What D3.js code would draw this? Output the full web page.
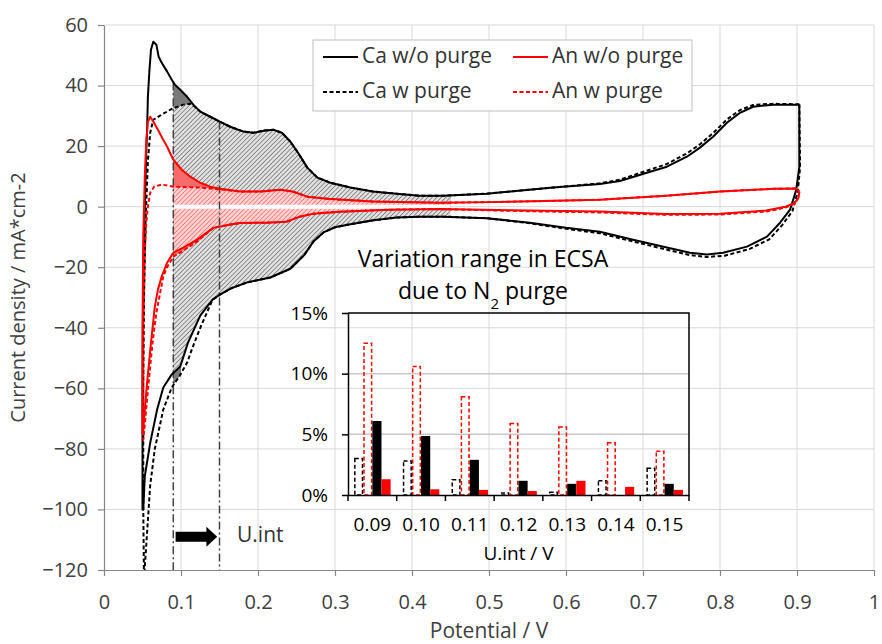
<!DOCTYPE html>
<html><head><meta charset="utf-8">
<script src="https://cdn.jsdelivr.net/npm/d3@7"></script>
<style>
html,body{margin:0;padding:0;background:#fff;}
svg{display:block;font-family:"Open Sans",sans-serif;}
</style></head>
<body>
<svg id="chart" width="882" height="644"></svg>
<script>
// ---------- DATA ----------
const xTicks = [0,0.1,0.2,0.3,0.4,0.5,0.6,0.7,0.8,0.9,1];
const xTickLabels = ["0","0.1","0.2","0.3","0.4","0.5","0.6","0.7","0.8","0.9","1"];
const yTicks = [-120,-100,-80,-60,-40,-20,0,20,40,60];

// Ca w/o purge (black solid): anodic (upper) and cathodic (lower) branches [V, mA/cm2]
const caWoAnodic = [[0.050,-100],[0.050,-60],[0.051,-20],[0.053,0],[0.055,18.8],[0.056,25.4],[0.057,36.3],[0.059,45],[0.061,51.8],[0.064,54.5],[0.068,53.5],[0.071,49.5],[0.075,47.5],[0.082,44.6],[0.088,41.9],[0.092,40.3],[0.099,38.6],[0.108,36.3],[0.116,33.7],[0.125,31.4],[0.138,29.7],[0.151,28],[0.164,26.4],[0.181,24.8],[0.194,24.4],[0.207,25.1],[0.22,25.4],[0.231,24.4],[0.242,21.5],[0.252,17.8],[0.264,12.9],[0.277,9.6],[0.294,7.9],[0.32,6.3],[0.349,5],[0.38,4.3],[0.41,3.6],[0.44,3.6],[0.497,4.3],[0.583,6.3],[0.644,7.5],[0.67,8.5],[0.705,11.2],[0.731,13.2],[0.757,16.5],[0.774,19.5],[0.791,23.1],[0.809,27.7],[0.826,31],[0.843,33],[0.869,33.7],[0.903,33.7]];
const caWoCathodic = [[0.903,33.7],[0.903,13],[0.899,5.6],[0.891,-1],[0.878,-5.3],[0.861,-9.9],[0.835,-13.2],[0.804,-15.2],[0.783,-15.8],[0.761,-15.2],[0.731,-13.5],[0.687,-10.9],[0.644,-8.3],[0.6,-7],[0.553,-5.3],[0.497,-3.8],[0.44,-3.3],[0.41,-3.3],[0.38,-3.6],[0.35,-4.5],[0.32,-5.8],[0.3,-6.8],[0.285,-8.5],[0.272,-11.5],[0.26,-16],[0.242,-20.5],[0.216,-23.4],[0.186,-25],[0.165,-27],[0.151,-29],[0.141,-30.7],[0.125,-36],[0.109,-45],[0.099,-52.8],[0.088,-55.4],[0.077,-59.7],[0.069,-67],[0.060,-78],[0.053,-89],[0.051,-100]];
// Ca w purge (black dashed)
const caWAnodic = [[0.052,-125],[0.051,-100],[0.051,-60],[0.052,-30],[0.054,-5],[0.057,15],[0.060,24.4],[0.064,28.7],[0.075,30.4],[0.088,32.3],[0.103,33.7],[0.112,34],[0.118,33],[0.125,31.4],[0.138,29.7],[0.151,28],[0.164,26.4],[0.181,24.8],[0.194,24.4],[0.207,25.1],[0.22,25.4],[0.231,24.4],[0.242,21.5],[0.252,17.8],[0.264,12.9],[0.277,9.6],[0.294,7.9],[0.32,6.3],[0.349,5],[0.38,4.3],[0.41,3.6],[0.44,3.6],[0.497,4.3],[0.583,6.3],[0.644,7.7],[0.67,8.9],[0.705,11.9],[0.731,14.1],[0.757,17.6],[0.774,20.6],[0.791,24.3],[0.809,28.8],[0.826,31.9],[0.843,33.6],[0.869,34],[0.903,33.8]];
const caWCathodic = [[0.903,33.8],[0.904,13],[0.901,5],[0.894,-1.5],[0.881,-6],[0.864,-10.8],[0.838,-14],[0.806,-16.2],[0.783,-16.6],[0.761,-16],[0.731,-14.2],[0.687,-11.5],[0.644,-8.8],[0.6,-7.3],[0.553,-5.5],[0.497,-3.8],[0.44,-3.3],[0.41,-3.3],[0.38,-3.6],[0.35,-4.5],[0.32,-5.8],[0.3,-6.8],[0.285,-8.5],[0.272,-11.5],[0.26,-16],[0.242,-20.5],[0.216,-23.4],[0.186,-25],[0.165,-27],[0.151,-29],[0.141,-30.7],[0.125,-40],[0.115,-46.5],[0.108,-51.5],[0.098,-56],[0.088,-59.7],[0.077,-67],[0.066,-80],[0.060,-92],[0.053,-119],[0.052,-125]];
// An w/o purge (red solid)
const anWoAnodic = [[0.050,-75],[0.050,-40],[0.051,-10],[0.053,10],[0.055,22],[0.057,28],[0.060,29.7],[0.065,27.7],[0.070,25.4],[0.076,22.5],[0.082,19.8],[0.09,15.5],[0.101,12.2],[0.112,9.9],[0.125,7.9],[0.138,6.6],[0.151,5.9],[0.177,5],[0.203,5],[0.229,5.6],[0.245,5],[0.264,3.3],[0.29,2.6],[0.349,1.7],[0.436,1.3],[0.5,1.5],[0.6,2],[0.644,2.3],[0.73,3.6],[0.8,5],[0.87,5.9],[0.898,6],[0.903,5]];
const anWoCathodic = [[0.903,5],[0.902,3],[0.897,1.2],[0.885,0],[0.86,-1.3],[0.8,-2.3],[0.73,-2.4],[0.644,-1.6],[0.55,-1.3],[0.436,-0.8],[0.371,-1],[0.306,-1.7],[0.272,-2.3],[0.254,-3.3],[0.237,-5],[0.211,-5.3],[0.177,-5.4],[0.164,-5.9],[0.142,-7],[0.121,-10.9],[0.103,-13.5],[0.09,-15.2],[0.082,-18.5],[0.075,-23],[0.070,-27.4],[0.066,-33],[0.061,-45],[0.056,-58],[0.052,-70],[0.050,-75]];
// An w purge (red dashed)
const anWAnodic = [[0.051,-77],[0.051,-40],[0.053,-15],[0.055,-5],[0.057,0],[0.060,4.6],[0.065,6.6],[0.075,7.3],[0.09,6.6],[0.125,6.3],[0.151,5.7],[0.177,5],[0.203,5],[0.229,5.6],[0.245,5],[0.264,3.3],[0.29,2.6],[0.349,1.7],[0.436,1.3],[0.5,1.5],[0.6,2],[0.644,2.3],[0.73,3.6],[0.8,5],[0.87,5.9],[0.898,6],[0.903,5]];
const anWCathodic = [[0.903,5],[0.902,3],[0.897,1],[0.885,-0.3],[0.86,-1.6],[0.8,-2.6],[0.73,-2.7],[0.644,-1.9],[0.55,-1.5],[0.436,-0.8],[0.371,-1],[0.306,-1.7],[0.272,-2.3],[0.254,-3.3],[0.237,-5],[0.211,-5.3],[0.177,-5.4],[0.164,-5.9],[0.142,-7],[0.121,-11.5],[0.103,-14.5],[0.09,-16.5],[0.082,-20],[0.077,-23],[0.072,-29.7],[0.068,-35],[0.063,-45],[0.058,-58],[0.053,-72],[0.051,-77]];

// Integration limits (U.int lines) and region ends
const uIntLines = [0.09, 0.15];
const fillStart = 0.09, fillEnd = 0.45, lowerDarkEnd = 0.10;

// Inset bar chart
const insetCats = ["0.09","0.10","0.11","0.12","0.13","0.14","0.15"];
const insetTicks = [0,5,10,15];
const caHollow = [3.0,2.8,1.25,0.17,0.22,1.17,2.2];
const anHollow = [12.5,10.6,8.1,5.9,5.6,4.3,3.6];
const caFilled = [6.1,4.86,2.9,1.17,0.92,0,0.92];
const anFilled = [1.3,0.47,0.42,0.33,1.17,0.67,0.42];

// ---------- CHART ----------
const svg = d3.select("#chart");
const L=104,R=874,T=25,B=570;
const x = d3.scaleLinear().domain([0,1]).range([L,R]);
const y = d3.scaleLinear().domain([-120,60]).range([B,T]);

const defs = svg.append("defs");
defs.append("clipPath").attr("id","plotClip").append("rect")
  .attr("x",L).attr("y",T).attr("width",R-L).attr("height",B-T);
function hatch(id,bg,fg){
  const p = defs.append("pattern").attr("id",id).attr("width",3.2).attr("height",3.2)
    .attr("patternUnits","userSpaceOnUse").attr("patternTransform","rotate(45)");
  p.append("rect").attr("width",3.2).attr("height",3.2).attr("fill",bg);
  p.append("line").attr("x1",0).attr("y1",0).attr("x2",0).attr("y2",3.2)
    .attr("stroke",fg).attr("stroke-width",1.3);
}
hatch("hGray","#e0e0e0","#666666");
hatch("hPink","#ffd2d2","#ff5e5e");

// gridlines
const grid = svg.append("g");
grid.selectAll("line.v").data(xTicks.slice(1)).join("line")
  .attr("x1",d=>x(d)).attr("x2",d=>x(d)).attr("y1",T).attr("y2",B)
  .attr("stroke","#d9d9d9").attr("stroke-width",1);
grid.selectAll("line.h").data(yTicks.filter(d=>d!==-120)).join("line")
  .attr("x1",L).attr("x2",R).attr("y1",d=>y(d)).attr("y2",d=>y(d))
  .attr("stroke","#d9d9d9").attr("stroke-width",1);

// interpolation on a branch
function interp(branch, v){
  for(let i=0;i<branch.length-1;i++){
    const a=branch[i], b=branch[i+1];
    if(a[0]>=0.085 && b[0]>=0.085 && (a[0]-v)*(b[0]-v)<=0 && a[0]!==b[0]){
      const t=(v-a[0])/(b[0]-a[0]);
      return a[1]+t*(b[1]-a[1]);
    }
  }
  return 0;
}
const area = d3.area().x(d=>x(d[0])).y0(y(0)).y1(d=>y(d[1]));
function fillRegion(branch, fill, end){
  const samples = d3.range(fillStart, (end||fillEnd)+1e-9, 0.0025);
  svg.append("path").datum(samples.map(v=>[v,interp(branch,v)]))
    .attr("d",area).attr("fill",fill).attr("stroke","none");
}
// upper side (layered from outermost)
fillRegion(caWoAnodic,"#7a7a7a");
fillRegion(caWAnodic,"url(#hGray)");
fillRegion(anWoAnodic,"#f76b6b");
fillRegion(anWAnodic,"url(#hPink)");
// lower side
fillRegion(caWCathodic,"#7a7a7a",lowerDarkEnd);
fillRegion(caWoCathodic,"url(#hGray)");
fillRegion(anWCathodic,"#f76b6b");
fillRegion(anWoCathodic,"url(#hPink)");
// white zero band
svg.append("line").attr("x1",x(fillStart)).attr("x2",x(fillEnd))
  .attr("y1",y(0)).attr("y2",y(0)).attr("stroke","#fff").attr("stroke-width",4);

// U.int lines
svg.selectAll("line.uint").data(uIntLines).join("line")
  .attr("x1",d=>x(d)).attr("x2",d=>x(d))
  .attr("y1",d=>y(interp(caWoAnodic,d))).attr("y2",B)
  .attr("stroke","#404040").attr("stroke-width",1.5).attr("stroke-dasharray","8,3,2,3");

// curves
const line = d3.line().x(d=>x(d[0])).y(d=>y(d[1]));
const curves = [
  {pts:caWoCathodic.concat(caWoAnodic), color:"#000", dash:null},
  {pts:caWCathodic.concat(caWAnodic), color:"#000", dash:"4,2.5"},
  {pts:anWoCathodic.concat(anWoAnodic), color:"#ff0000", dash:null},
  {pts:anWCathodic.concat(anWAnodic), color:"#ff0000", dash:"4,2.5"}
];
const cg = svg.append("g").attr("clip-path","url(#plotClip)");
cg.selectAll("path").data(curves).join("path")
  .attr("d",d=>line(d.pts)).attr("fill","none")
  .attr("stroke",d=>d.color).attr("stroke-width",2)
  .attr("stroke-dasharray",d=>d.dash).attr("stroke-linejoin","round");

// axes
const axL = svg.append("g").attr("transform",`translate(${L},0)`)
  .call(d3.axisLeft(y).tickValues(yTicks).tickSize(6).tickSizeOuter(0).tickPadding(10));
const axB = svg.append("g").attr("transform",`translate(0,${B})`)
  .call(d3.axisBottom(x).tickValues(xTicks).tickFormat((d,i)=>xTickLabels[i]).tickSize(6).tickSizeOuter(0).tickPadding(19));
[axL,axB].forEach(a=>{
  a.select(".domain").attr("stroke","#868686").attr("stroke-width",1.2);
  a.selectAll(".tick line").attr("stroke","#868686").attr("stroke-width",1.2);
  a.selectAll(".tick text").attr("fill","#404040").style("font-size","20px").style("font-family","'Open Sans',sans-serif");
});

// axis titles
svg.append("text").attr("x",(L+R)/2).attr("y",632).attr("text-anchor","middle")
  .attr("dominant-baseline","middle").attr("fill","#404040").style("font-size","21px").text("Potential / V");
svg.append("text").attr("transform",`translate(20,${(T+B)/2}) rotate(-90)`).attr("text-anchor","middle")
  .attr("dominant-baseline","middle").attr("fill","#404040").style("font-size","20px").text("Current density / mA*cm-2");

// legend
const lg = svg.append("g");
lg.append("rect").attr("x",313).attr("y",40).attr("width",379).attr("height",71)
  .attr("fill","#fff").attr("stroke","#bfbfbf").attr("stroke-width",1);
const legendItems = [
  {label:"Ca w/o purge", color:"#000", dash:null, lx:323, ly:57},
  {label:"An w/o purge", color:"#ff0000", dash:null, lx:513, ly:57},
  {label:"Ca w purge", color:"#000", dash:"4,2.5", lx:323, ly:92},
  {label:"An w purge", color:"#ff0000", dash:"4,2.5", lx:513, ly:92}
];
legendItems.forEach(it=>{
  lg.append("line").attr("x1",it.lx).attr("x2",it.lx+35).attr("y1",it.ly).attr("y2",it.ly)
    .attr("stroke",it.color).attr("stroke-width",2).attr("stroke-dasharray",it.dash);
  lg.append("text").attr("x",it.lx+39).attr("y",it.ly).attr("dominant-baseline","middle")
    .attr("fill","#333").style("font-size","21px").text(it.label);
});

// arrow + U.int
const ay = y(-109);
const ax0 = x(0.093), ax1 = x(0.133), ax2 = x(0.147);
svg.append("path").attr("d",`M${ax0},${ay-5}L${ax1},${ay-5}L${ax1},${ay-10}L${ax2},${ay}L${ax1},${ay+10}L${ax1},${ay+5}L${ax0},${ay+5}Z`)
  .attr("fill","#000");
svg.append("text").attr("x",237).attr("y",ay).attr("dominant-baseline","middle")
  .attr("fill","#333").style("font-size","21px").text("U.int");

// ---------- INSET ----------
const iL=348,iR=689,iT=313,iB=495;
const xb = d3.scaleBand().domain(insetCats).range([iL,iR]);
const yb = d3.scaleLinear().domain([0,15]).range([iB,iT]);
const ig = svg.append("g");
ig.selectAll("line.g").data([5,10]).join("line")
  .attr("x1",iL).attr("x2",iR).attr("y1",d=>yb(d)).attr("y2",d=>yb(d))
  .attr("stroke","#c8c8c8").attr("stroke-width",1.5);
const groupW = xb.bandwidth()*0.75, bw = groupW/4, off=(xb.bandwidth()-groupW)/2;
const series = [
  {vals:caHollow, fill:"none", stroke:"#000", dash:"4,2.5"},
  {vals:anHollow, fill:"none", stroke:"#ff0000", dash:"4,2.5"},
  {vals:caFilled, fill:"#000", stroke:"none", dash:null},
  {vals:anFilled, fill:"#ff0000", stroke:"none", dash:null}
];
series.forEach((s,si)=>{
  ig.selectAll(null).data(s.vals).join("rect")
    .attr("x",(d,i)=>xb(insetCats[i])+off+si*bw+(s.fill==="none"?0.75:0))
    .attr("width",bw-(s.fill==="none"?1.5:0))
    .attr("y",d=>yb(d)).attr("height",d=>Math.max(0,iB-yb(d)))
    .attr("fill",s.fill).attr("stroke",s.stroke).attr("stroke-width",1.5)
    .attr("stroke-dasharray",s.dash);
});
const iaL = ig.append("g").attr("transform",`translate(${iL},0)`)
  .call(d3.axisLeft(yb).tickValues(insetTicks).tickFormat(d=>d+"%").tickSize(6).tickSizeOuter(0).tickPadding(14));
const iaB = ig.append("g").attr("transform",`translate(0,${iB})`)
  .call(d3.axisBottom(xb).tickSize(0).tickPadding(23));
iaB.selectAll(".bt").data(d3.range(insetCats.length+1)).join("line")
  .attr("x1",i=>iL+i*xb.step()).attr("x2",i=>iL+i*xb.step()).attr("y1",0).attr("y2",6)
  .attr("stroke","#000").attr("stroke-width",1.5);
[iaL,iaB].forEach(a=>{
  a.select(".domain").attr("stroke","#000").attr("stroke-width",1.5);
  a.selectAll(".tick line").attr("stroke","#000").attr("stroke-width",1.5);
  a.selectAll(".tick text").attr("fill","#000").style("font-size","19px").style("font-family","'Open Sans',sans-serif");
});
ig.append("path").attr("d",`M${iL},${iT}L${iR},${iT}L${iR},${iB}`).attr("fill","none")
  .attr("stroke","#000").attr("stroke-width",1.5);
ig.append("text").attr("x",(iL+iR)/2).attr("y",555).attr("text-anchor","middle")
  .attr("dominant-baseline","middle").attr("fill","#000").style("font-size","19px").text("U.int / V");
const tt = ig.append("text").attr("x",483).attr("text-anchor","middle").attr("fill","#000").style("font-size","23px");
tt.append("tspan").attr("x",483).attr("y",267).text("Variation range in ECSA");
const t2 = tt.append("tspan").attr("x",483).attr("y",299).text("due to N");
t2.append("tspan").attr("baseline-shift","sub").style("font-size","15px").text("2");
tt.append("tspan").text(" purge");
</script>
</body></html>
